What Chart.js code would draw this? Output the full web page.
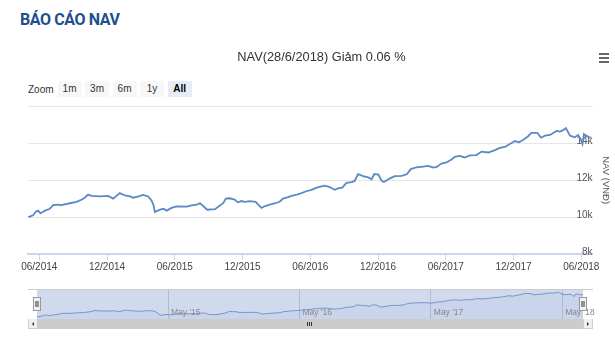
<!DOCTYPE html>
<html>
<head>
<meta charset="utf-8">
<script src="https://cdn.jsdelivr.net/npm/chart.js@4.4.0/dist/chart.umd.min.js"></script>
<style>
  body { margin: 0; background: #fff; }
  #page { position: relative; width: 615px; height: 340px; overflow: hidden; font-family: "Liberation Sans", Arial, sans-serif; }
  .heading { position: absolute; left: 20px; top: 10px; font: bold 16px Roboto, sans-serif; color: #1d4f8f; letter-spacing: -0.4px; }
  .menu { position: absolute; left: 599px; top: 53px; width: 10px; }
  .menu span { display: block; height: 2px; background: #666; margin-bottom: 2px; }
  .zoom { position: absolute; left: 28px; top: 81px; height: 16px; display: flex; align-items: center; font-size: 10px; color: #333; }
  .zoom .lbl { margin-right: 4px; }
  .zoom .btn { width: 24px; height: 16px; line-height: 16px; text-align: center; background: #f7f7f7; margin-right: 3.5px; }
  .zoom .btn.on { background: #e6ebf5; font-weight: bold; color: #000; }
  #mainBox { position: absolute; left: 0; top: 40px; }
  #navBox { position: absolute; left: 0; top: 283px; }
  .scroll { position: absolute; left: 28px; top: 319px; width: 565px; height: 10px; background: #f2f2f2; }
  .sb-btn { position: absolute; top: 0; width: 8px; height: 9px; background: #efefef; border: 1px solid #cfcfcf; border-top: 0; }
  .sb-btn.l { left: 0; }
  .sb-btn.r { right: 0; }
  .sb-btn i { position: absolute; top: 3px; width: 0; height: 0; border-top: 2px solid transparent; border-bottom: 2px solid transparent; }
  .sb-btn.l i { left: 3px; border-right: 2px solid #333; }
  .sb-btn.r i { left: 3px; border-left: 2px solid #333; }
  .sb-thumb { position: absolute; left: 9px; top: 0; width: 546px; height: 10px; background: #cccccc; }
  .sb-thumb span { position: absolute; top: 3px; width: 1px; height: 4px; background: #333; }
</style>
</head>
<body>
<div id="page">
  <div class="heading">BÁO CÁO NAV</div>
  <div class="menu"><span></span><span></span><span></span></div>
  <div class="zoom">
    <span class="lbl">Zoom</span>
    <span class="btn">1m</span><span class="btn">3m</span><span class="btn">6m</span><span class="btn">1y</span><span class="btn on">All</span>
  </div>
  <div id="mainBox"><canvas id="navChart" width="615" height="240"></canvas></div>
  <div id="navBox"><canvas id="navigator" width="615" height="37"></canvas></div>
  <div class="scroll">
    <div class="sb-btn l"><i></i></div>
    <div class="sb-thumb"><span style="left:270px"></span><span style="left:272px"></span><span style="left:274px"></span></div>
    <div class="sb-btn r"><i></i></div>
  </div>
</div>
<script>
// NAV per fund unit (VND)
const dates = [
  '2014-05-02', '2014-05-15', '2014-05-23', '2014-05-29', '2014-06-04', '2014-06-16', '2014-06-29',
  '2014-07-08', '2014-07-22', '2014-07-31', '2014-08-23', '2014-09-10', '2014-09-24', '2014-10-02',
  '2014-10-11', '2014-10-20', '2014-11-12', '2014-12-04', '2014-12-18', '2015-01-05', '2015-01-19',
  '2015-02-02', '2015-02-10', '2015-02-23', '2015-03-07', '2015-03-21', '2015-03-30', '2015-04-04',
  '2015-04-08', '2015-04-22', '2015-05-01', '2015-05-10', '2015-05-23', '2015-06-06', '2015-07-03',
  '2015-07-16', '2015-07-30', '2015-08-08', '2015-08-17', '2015-08-28', '2015-09-18', '2015-09-29',
  '2015-10-10', '2015-10-17', '2015-10-28', '2015-11-10', '2015-11-19', '2015-11-28', '2015-12-07',
  '2015-12-21', '2016-01-06', '2016-01-13', '2016-01-22', '2016-02-01', '2016-02-13', '2016-02-27',
  '2016-03-10', '2016-03-19', '2016-04-02', '2016-04-11', '2016-04-25', '2016-05-08', '2016-05-21',
  '2016-06-04', '2016-06-18', '2016-07-01', '2016-07-10', '2016-07-23', '2016-08-06', '2016-08-15',
  '2016-08-27', '2016-09-07', '2016-09-21', '2016-09-29', '2016-10-08', '2016-10-22', '2016-11-05',
  '2016-11-14', '2016-11-21', '2016-12-02', '2016-12-11', '2016-12-17', '2017-01-03', '2017-01-16',
  '2017-02-04', '2017-02-17', '2017-02-26', '2017-03-14', '2017-04-01', '2017-04-14', '2017-04-28',
  '2017-05-07', '2017-05-20', '2017-06-03', '2017-06-16', '2017-06-25', '2017-07-08', '2017-07-22',
  '2017-08-05', '2017-08-23', '2017-09-06', '2017-09-24', '2017-10-12', '2017-10-25', '2017-11-08',
  '2017-11-21', '2017-12-05', '2017-12-16', '2017-12-29', '2018-01-10', '2018-01-19', '2018-02-04',
  '2018-02-13', '2018-02-23', '2018-03-08', '2018-03-17', '2018-03-26', '2018-04-04', '2018-04-13',
  '2018-04-20', '2018-05-01', '2018-05-14', '2018-05-23', '2018-05-30', '2018-06-04', '2018-06-08',
  '2018-06-15', '2018-06-22', '2018-06-28'
];
const navValues = [
  10000, 10100, 10300, 10350, 10200, 10350, 10450,
  10650, 10680, 10650, 10750, 10830, 10950, 11050,
  11220, 11150, 11120, 11150, 11000, 11300, 11170,
  11120, 11050, 11120, 11200, 11120, 10900, 10680,
  10280, 10400, 10450, 10350, 10500, 10580, 10570,
  10630, 10680, 10750, 10600, 10400, 10430, 10600,
  10750, 11000, 11020, 10950, 10800, 10870, 10830,
  10870, 10830, 10680, 10500, 10600, 10680, 10750,
  10830, 11000, 11080, 11150, 11220, 11300, 11400,
  11480, 11600, 11660, 11700, 11630, 11480, 11550,
  11600, 11850, 11900, 11960, 12330, 12220, 12150,
  12050, 12330, 12300, 11960, 11900, 12100, 12220,
  12230, 12330, 12600, 12700, 12740, 12770, 12680,
  12720, 12900, 12960, 13120, 13270, 13320, 13230,
  13340, 13360, 13550, 13500, 13630, 13750, 13800,
  13960, 14120, 14050, 14200, 14380, 14560, 14560,
  14300, 14410, 14450, 14560, 14670, 14630, 14710,
  14820, 14410, 14320, 14450, 14230, 13960, 14500,
  14410, 14320, 14310
];
const xTickLabels = ['06/2014', '12/2014', '06/2015', '12/2015', '06/2016', '12/2016', '06/2017', '12/2017', '06/2018'];
const yTickValues = [8000, 10000, 12000, 14000, 16000];
const navigatorTickDates = ['2015-05-01', '2016-05-01', '2017-05-01', '2018-05-01'];
const navigatorTickLabels = ["May '15", "May '16", "May '17", "May '18"];

// no date adapter is loaded, so time runs on a month-count axis (0 = Jan 2014)
function monthIndex(iso) {
  const [y, m, d] = iso.split('-').map(Number);
  const days = new Date(y, m, 0).getDate();
  return (y - 2014) * 12 + (m - 1) + (d - 1) / days;
}
const points = dates.map((d, i) => ({ x: monthIndex(d), y: navValues[i] }));
const xTicks = xTickLabels.map(l => {
  const [m, y] = l.split('/').map(Number);
  return (y - 2014) * 12 + (m - 1);
});
const navTicks = navigatorTickDates.map(monthIndex);

const font = 'Liberation Sans';

new Chart(document.getElementById('navChart'), {
  type: 'line',
  data: {
    datasets: [{
      label: 'NAV',
      data: points,
      borderColor: '#5a89c6',
      borderWidth: 1.8,
      pointRadius: 0,
      tension: 0,
      fill: false
    }]
  },
  options: {
    responsive: false,
    animation: false,
    layout: { padding: { left: 28, right: 0, bottom: 6 } },
    plugins: {
      legend: { display: false },
      tooltip: { enabled: false },
      title: {
        display: true,
        text: 'NAV(28/6/2018) Giảm 0.06 %',
        color: '#333',
        font: { family: font, size: 12.8, weight: 'normal' },
        padding: { top: 10, bottom: 41 }
      }
    },
    scales: {
      x: {
        type: 'linear',
        min: 4,
        max: 54,
        afterBuildTicks: scale => { scale.ticks = xTicks.map(v => ({ value: v })); },
        ticks: {
          callback: v => xTickLabels[xTicks.indexOf(v)],
          color: '#444',
          font: { family: font, size: 10 },
          padding: 1,
          maxRotation: 0,
          autoSkip: false
        },
        grid: { drawOnChartArea: false, color: '#ccd6eb', tickLength: 6 },
        border: { color: '#ccd6eb', width: 2 }
      },
      y: {
        position: 'right',
        min: 8000,
        max: 16000,
        afterBuildTicks: scale => { scale.ticks = yTickValues.map(v => ({ value: v })); },
        ticks: {
          mirror: true,
          padding: 0,
          labelOffset: -2,
          color: '#555',
          font: { family: font, size: 10 },
          callback: v => (v === 16000 ? '' : v / 1000 + 'k')
        },
        grid: { color: '#e6e6e6', drawTicks: false },
        border: { display: false },
        title: {
          display: true,
          text: 'NAV (VNĐ)',
          color: '#555',
          font: { family: font, size: 9.5 },
          padding: { top: 4, bottom: 7 }
        }
      }
    }
  }
});

// navigator: shaded selection, outline and the two drag handles
const navigatorMask = {
  id: 'navigatorMask',
  beforeDraw(chart) {
    const { ctx, chartArea: a } = chart;
    ctx.save();
    ctx.fillStyle = 'rgba(102,133,194,0.3)';
    ctx.fillRect(a.left, a.top, a.right - a.left, a.bottom - a.top);
    ctx.restore();
  },
  afterDraw(chart) {
    const { ctx, chartArea: a } = chart;
    ctx.save();
    ctx.strokeStyle = '#cccccc';
    ctx.lineWidth = 1;
    ctx.beginPath();
    ctx.moveTo(a.left - 9, a.top + 0.5);
    ctx.lineTo(a.right + 10, a.top + 0.5);
    ctx.stroke();
    const mid = (a.top + a.bottom) / 2;
    [a.left, a.right].forEach(x => {
      const left = Math.round(x) - 3.5;
      ctx.fillStyle = '#f2f2f2';
      ctx.strokeStyle = '#999999';
      ctx.fillRect(left, mid - 6.5, 7, 13);
      ctx.strokeRect(left, mid - 6.5, 7, 13);
      ctx.beginPath();
      ctx.moveTo(left + 2.5, mid - 3);
      ctx.lineTo(left + 2.5, mid + 3);
      ctx.moveTo(left + 4.5, mid - 3);
      ctx.lineTo(left + 4.5, mid + 3);
      ctx.strokeStyle = '#333';
      ctx.stroke();
    });
    ctx.restore();
  }
};

new Chart(document.getElementById('navigator'), {
  type: 'line',
  data: {
    datasets: [{
      data: points,
      borderColor: '#7595c9',
      borderWidth: 1,
      pointRadius: 0,
      tension: 0,
      fill: 'start',
      backgroundColor: 'rgba(69,114,167,0.05)'
    }]
  },
  options: {
    responsive: false,
    animation: false,
    layout: { padding: { left: 37, right: 32, top: 6, bottom: 1 } },
    plugins: { legend: { display: false }, tooltip: { enabled: false } },
    scales: {
      x: {
        type: 'linear',
        min: points[0].x,
        max: points[points.length - 1].x,
        afterBuildTicks: scale => { scale.ticks = navTicks.map(v => ({ value: v })); },
        afterFit: scale => { scale.height = 0; scale.paddingLeft = 0; scale.paddingRight = 0; },
        ticks: {
          callback: v => navigatorTickLabels[navTicks.indexOf(v)],
          // mirrored so the labels sit inside the plot, just above its bottom edge
          mirror: true,
          align: 'start',
          labelOffset: 3,
          padding: 1,
          color: '#888',
          font: { family: font, size: 8.5 },
          maxRotation: 0,
          autoSkip: false
        },
        grid: { color: 'rgba(110,130,175,0.35)', drawTicks: false },
        border: { display: false }
      },
      y: { display: false, min: 9550, max: 15450 }
    }
  },
  plugins: [navigatorMask]
});
</script>
</body>
</html>
